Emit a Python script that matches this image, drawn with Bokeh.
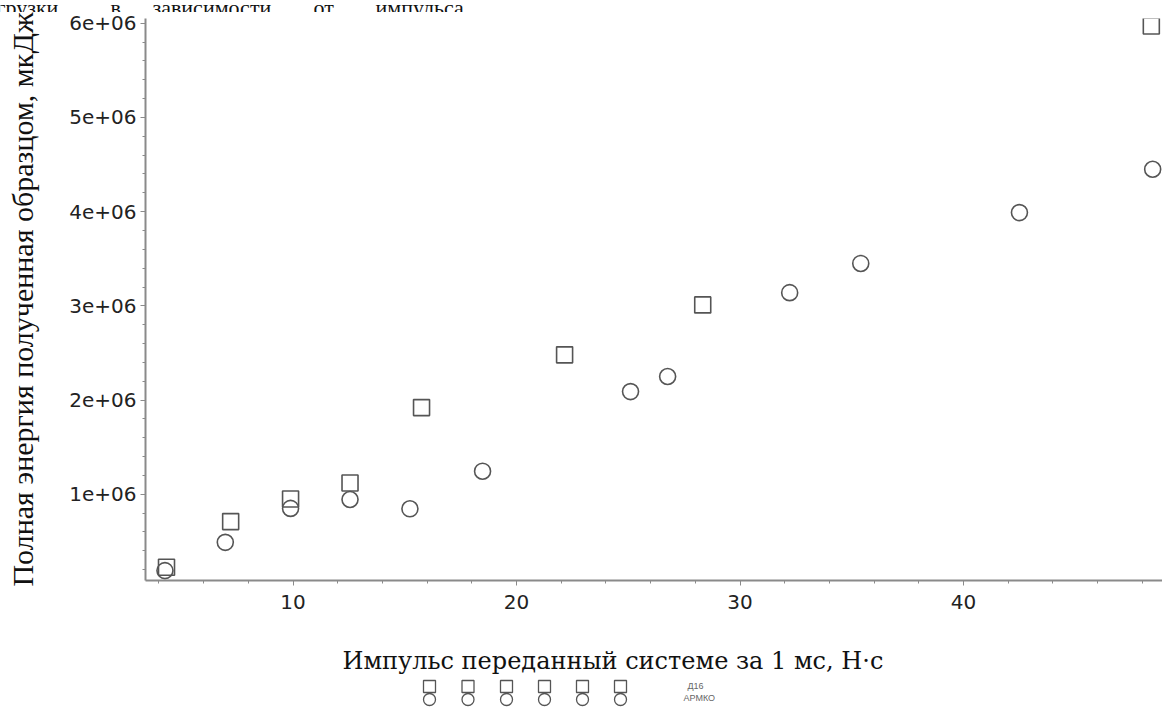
from bokeh.plotting import figure
from bokeh.models import Range1d, FixedTicker
from bokeh.layouts import column
from bokeh.embed import file_html
from bokeh.resources import INLINE
from bokeh.core.properties import value

# Series Д16 (squares) and АРМКО (circles): impulse in N*s, energy in uJ
series_names = ["Д16", "АРМКО"]
d16_impulse = [4.34, 7.21, 9.89, 12.55, 15.75, 22.15, 28.33, 48.4]
d16_energy = [0.226e6, 0.71e6, 0.95e6, 1.12e6, 1.92e6, 2.48e6, 3.01e6, 5.97e6]
armco_impulse = [4.27, 6.97, 9.89, 12.55, 15.23, 18.48, 25.1, 26.76, 32.22, 35.4, 42.5, 48.46]
armco_energy = [0.19e6, 0.49e6, 0.85e6, 0.945e6, 0.846e6, 1.245e6, 2.09e6, 2.25e6,
                3.14e6, 3.45e6, 3.99e6, 4.45e6]

x_ticks = [10, 20, 30, 40]
x_tick_labels = ["10", "20", "30", "40"]
y_ticks = [1e6, 2e6, 3e6, 4e6, 5e6, 6e6]
y_tick_labels = ["1e+06", "2e+06", "3e+06", "4e+06", "5e+06", "6e+06"]

x_title = "Импульс переданный системе за 1 мс, Н·с"
y_title = "Полная энергия полученная образцом, мкДж"
caption_words = ["грузки", "в", "зависимости", "от", "импульса,"]

SERIF = "Liberation Serif"
WIDE_SERIF = "DejaVu Serif"
SANS = "DejaVu Sans"
MARK = "#555555"
AXIS = "#8a8a8a"
W = 1162


def strip(top, bottom):
    """Blank full-width band whose data coordinates are page pixels."""
    s = figure(width=W, height=bottom - top, output_backend="svg", toolbar_location=None,
               x_range=Range1d(0, W), y_range=Range1d(bottom, top),
               x_axis_type=None, y_axis_type=None, min_border=0, frame_align=False)
    s.outline_line_color = None
    s.xgrid.visible = False
    s.ygrid.visible = False
    return s


# band with the tail of the document text line above the chart
head = strip(0, 12)
caption_x = [-4, 110, 152, 313, 375]
head.text(caption_x, [7] * len(caption_words), text=caption_words,
          text_font=value(SERIF), text_font_size="22px", text_color="#111111",
          text_baseline="alphabetic", text_align="left")

# main scatter chart
p = figure(width=W, height=628, output_backend="svg", toolbar_location=None,
           x_range=Range1d(3.4, 48.9), y_range=Range1d(0.085e6, 6.05e6),
           min_border_left=145, min_border_right=0, min_border_top=6, min_border_bottom=60,
           frame_align=False)
p.outline_line_color = None
p.xgrid.visible = False
p.ygrid.visible = False

p.scatter(d16_impulse, d16_energy, marker="square", size=16, fill_color=None,
          line_color=MARK, line_width=1.6)
p.scatter(armco_impulse, armco_energy, marker="circle", size=16, fill_color=None,
          line_color=MARK, line_width=1.6)

p.xaxis.ticker = FixedTicker(ticks=x_ticks, minor_ticks=list(range(4, 50, 2)))
p.yaxis.ticker = FixedTicker(ticks=y_ticks, minor_ticks=[k * 0.2e6 for k in range(1, 31)])
p.xaxis.major_label_overrides = {float(t): s for t, s in zip(x_ticks, x_tick_labels)}
p.yaxis.major_label_overrides = {float(t): s for t, s in zip(y_ticks, y_tick_labels)}

for ax in (p.xaxis[0], p.yaxis[0]):
    ax.axis_line_color = AXIS
    ax.axis_line_width = 2
    ax.major_tick_line_color = AXIS
    ax.minor_tick_line_color = AXIS
    ax.major_tick_in = 0
    ax.major_tick_out = 5
    ax.minor_tick_in = 0
    ax.minor_tick_out = 3
    ax.major_label_text_font = SANS
    ax.major_label_text_font_size = "20px"
    ax.major_label_text_color = "#222222"
    ax.major_label_standoff = 4
p.xaxis.major_label_standoff = 9

p.yaxis.axis_label = y_title
p.yaxis.axis_label_text_font = SERIF
p.yaxis.axis_label_text_font_size = "30px"
p.yaxis.axis_label_text_font_style = "normal"
p.yaxis.axis_label_text_color = "#111111"
p.yaxis.axis_label_standoff = 27

# band with the x title and the legend
foot = strip(640, 711)
foot.text([342], [660], text=[x_title], text_font=value(WIDE_SERIF), text_font_size="24px",
          text_color="#111111", text_baseline="alphabetic", text_align="left")
pair_x = [429, 467.5, 506, 544, 582, 620]
foot.scatter(pair_x, [686] * len(pair_x), marker="square", size=12, fill_color=None,
             line_color=MARK, line_width=1.3)
foot.scatter(pair_x, [699] * len(pair_x), marker="circle", size=12, fill_color=None,
             line_color=MARK, line_width=1.3)
foot.text([687, 683], [685, 697], text=series_names, text_font=value("Liberation Sans"),
          text_font_size="9px", text_color="#666666", text_baseline="middle", text_align="left")

layout = column(head, p, foot, spacing=0)
open("out.html", "w").write(file_html(layout, INLINE))
